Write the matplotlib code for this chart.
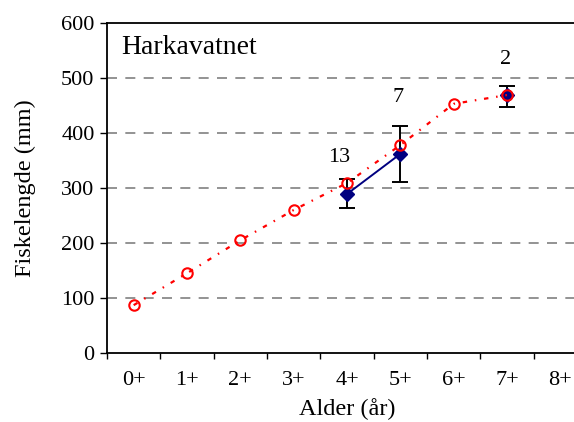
import matplotlib
matplotlib.use("Agg")
import matplotlib.pyplot as plt
import numpy as np

categories = ["0+", "1+", "2+", "3+", "4+", "5+", "6+", "7+", "8+"]
back_calc = [87, 145, 205, 260, 309, 378, 453, 469]          # red circles, ages 0+..7+
obs_x = [4, 5, 7]
obs_mean = [289, 362, 469]
obs_low = [263, 311, 448]
obs_high = [317, 413, 485]
obs_n = ["13", "7", "2"]
label_y = [356, 464, 533]
label_x = [3.85, 4.95, 6.98]

plt.rcParams['font.family'] = ['Liberation Serif', 'DejaVu Serif']

fig = plt.figure(figsize=(5.74, 4.22), dpi=100)
ax = fig.add_axes([107/574, 69/422, 480/574, 330/422])

ax.set_xlim(-0.5, 8.5)
ax.set_ylim(0, 600)

for yv in [100, 200, 300, 400, 500]:
    ax.axhline(yv, color='#808080', lw=1.2, ls=(0, (6, 5)), zorder=0)

xs = np.arange(len(back_calc))
yerr = [np.array(obs_mean) - np.array(obs_low), np.array(obs_high) - np.array(obs_mean)]
ax.errorbar(obs_x, obs_mean, yerr=yerr, fmt='none', ecolor='black', elinewidth=1.4,
            capsize=6, capthick=1.4, zorder=2)
ax.plot(obs_x[:2], obs_mean[:2], color='#000080', lw=1.4, zorder=3)
ax.plot(obs_x, obs_mean, ls='none', marker='D', color='#000080', ms=7, zorder=3)
ax.plot(xs, back_calc, color='red', lw=1.6, ls=(0, (2, 3.5, 0.7, 3.5)), marker='o',
        mfc='none', mec='red', ms=7.5, mew=1.5, zorder=4)

for xv, yv, t in zip(label_x, label_y, obs_n):
    ax.text(xv, yv, t, ha='center', va='center', fontsize=16)

ax.text(-0.23, 555, "Harkavatnet", fontsize=20, ha='left', va='center')

ax.set_xticks(range(len(categories)))
ax.set_xticklabels(categories, fontsize=16)
ax.set_xticks(np.arange(-0.5, 8.6, 1), minor=True)
ax.tick_params(axis='x', which='major', length=0, pad=13)
ax.tick_params(axis='x', which='minor', length=4, width=1, direction='out')
ax.set_yticks(range(0, 601, 100))
ax.tick_params(axis='y', labelsize=16, length=5, width=1, direction='out', pad=4)

for s in ['left', 'bottom', 'top']:
    ax.spines[s].set_linewidth(1.3)
ax.spines['right'].set_visible(False)

ax.set_ylabel("Fiskelengde (mm)", fontsize=17.5, labelpad=18)
ax.set_xlabel("Alder (år)", fontsize=17.5, labelpad=6)

fig.savefig("out.png", dpi=100)
